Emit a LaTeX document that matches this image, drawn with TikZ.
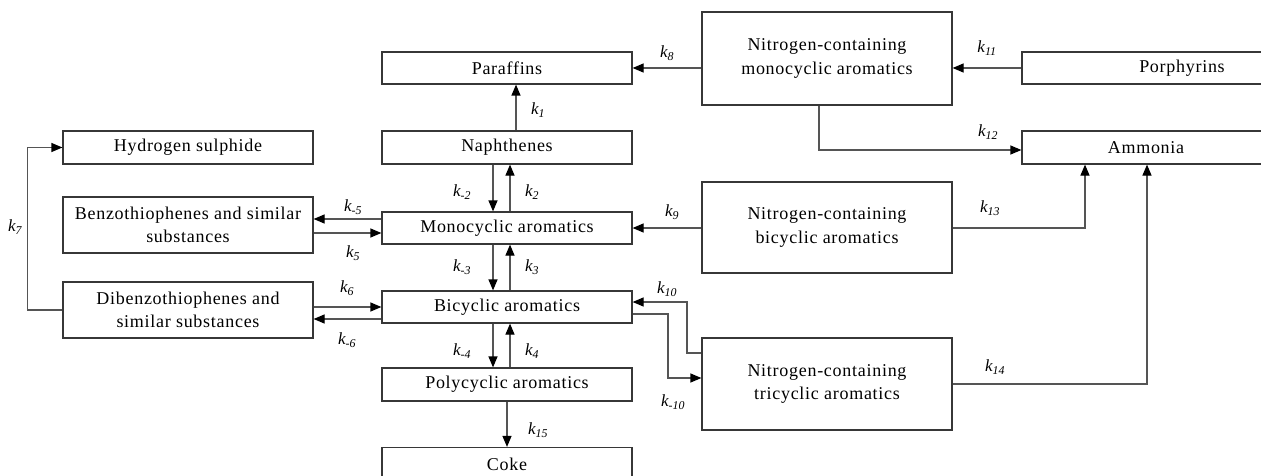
\documentclass[tikz,border=0pt]{standalone}
\usepackage{fontspec}
\setmainfont{Liberation Serif}
\usetikzlibrary{arrows.meta}
\definecolor{linecol}{RGB}{85,85,85}
\definecolor{boxcol}{RGB}{55,55,55}
\begin{document}
\begin{tikzpicture}[x=1pt,y=-1pt,
  box/.style={draw=boxcol, line width=1.2pt, minimum width=250pt, inner sep=2pt, align=center,
    font=\addfontfeatures{LetterSpace=4}\fontsize{18}{23.5}\selectfont, text=black},
  arr/.style={draw=linecol, line width=1.2pt, -{Triangle[length=11pt,width=9pt,color=black]}},
  kl/.style={font=\fontsize{17}{20}\selectfont\itshape, inner sep=0pt, text=black}]
\useasboundingbox (0,0) rectangle (1261,476);
\clip (0,0) rectangle (1261,476);
% central column
\node[box, minimum height=32pt] (par) at (507,68) {Paraffins};
\node[box, minimum height=33pt] (nap) at (507,147.5) {Naphthenes};
\node[box, minimum height=32pt] (mono) at (507,228) {Monocyclic aromatics};
\node[box, minimum height=32pt] (bic) at (507,307) {Bicyclic aromatics};
\node[box, minimum height=33pt] (poly) at (507,384.5) {Polycyclic aromatics};
\node[box, minimum height=33pt] (coke) at (507,464) {Coke};
% left column
\node[box, minimum height=33pt] (hs) at (188,147.5) {Hydrogen sulphide};
\node[box, minimum height=56pt] (benz) at (188,225) {Benzothiophenes and similar\\substances};
\node[box, minimum height=56pt] (dib) at (188,310) {Dibenzothiophenes and\\similar substances};
% right
\node[box, minimum height=93pt] (nmono) at (827,58.5) {Nitrogen-containing\\monocyclic aromatics};
\node[box, minimum height=91pt] (nbi) at (827,227.5) {Nitrogen-containing\\bicyclic aromatics};
\node[box, minimum height=92pt] (ntri) at (827,384) {Nitrogen-containing\\tricyclic aromatics};
\node[box, minimum height=32pt, minimum width=248pt] (porph) at (1146,68) {\hspace*{72pt}Porphyrins};
\node[box, minimum height=33pt, minimum width=248pt] (amm) at (1146,147.5) {Ammonia};
% vertical connectors
\draw[arr] ([xshift=9pt]nap.north) -- ([xshift=9pt]par.south);
\draw[arr] ([xshift=-14pt]nap.south) -- ([xshift=-14pt]mono.north);
\draw[arr] ([xshift=3pt]mono.north) -- ([xshift=3pt]nap.south);
\draw[arr] ([xshift=-14pt]mono.south) -- ([xshift=-14pt]bic.north);
\draw[arr] ([xshift=3pt]bic.north) -- ([xshift=3pt]mono.south);
\draw[arr] ([xshift=-14pt]bic.south) -- ([xshift=-14pt]poly.north);
\draw[arr] ([xshift=3pt]poly.north) -- ([xshift=3pt]bic.south);
\draw[arr] (poly.south) -- (coke.north);
% left connectors
\draw[arr] (mono.west |- 0,219) -- (benz.east |- 0,219);
\draw[arr] (benz.east |- 0,233) -- (mono.west |- 0,233);
\draw[arr] (dib.east |- 0,307) -- (bic.west |- 0,307);
\draw[arr] (bic.west |- 0,319) -- (dib.east |- 0,319);
\draw[arr] (dib.west) -- ++(-35,0) |- (hs.west);
% right connectors
\draw[arr] (nmono.west |- 0,68) -- (par.east |- 0,68);
\draw[arr] (nbi.west |- 0,228) -- (mono.east |- 0,228);
\draw[arr] (ntri.west |- 0,353) -- (687,353) -- (687,302) -- (bic.east |- 0,302);
\draw[arr] (bic.east |- 0,314) -- (668,314) -- (668,378) -- (ntri.west |- 0,378);
\draw[arr] (porph.west) -- (nmono.east |- porph.west);
\draw[arr] (nmono.south -| 819,0) |- (amm.west |- 0,150);
\draw[arr] (nbi.east |- 0,228) -| (amm.south -| 1085,0);
\draw[arr] (ntri.east |- 0,384) -| (amm.south -| 1147,0);
% labels
\node[kl] (l1) at (538,110) {k\textsubscript{1}};
\node[kl] (lm2) at (462,192) {k\textsubscript{-2}};
\node[kl] (l2) at (532,192) {k\textsubscript{2}};
\node[kl] (lm3) at (462,267) {k\textsubscript{-3}};
\node[kl] (l3) at (532,267) {k\textsubscript{3}};
\node[kl] (lm4) at (462,351) {k\textsubscript{-4}};
\node[kl] (l4) at (532,351) {k\textsubscript{4}};
\node[kl] (l15) at (538,430) {k\textsubscript{15}};
\node[kl] (lm5) at (353,207) {k\textsubscript{-5}};
\node[kl] (l5) at (353,253) {k\textsubscript{5}};
\node[kl] (l6) at (347,288) {k\textsubscript{6}};
\node[kl] (lm6) at (347,340) {k\textsubscript{-6}};
\node[kl] (l7) at (15,227) {k\textsubscript{7}};
\node[kl] (l8) at (667,53) {k\textsubscript{8}};
\node[kl] (l9) at (672,212) {k\textsubscript{9}};
\node[kl] (l10) at (667,289) {k\textsubscript{10}};
\node[kl] (lm10) at (673,402) {k\textsubscript{-10}};
\node[kl] (l11) at (987,48) {k\textsubscript{11}};
\node[kl] (l12) at (988,132) {k\textsubscript{12}};
\node[kl] (l13) at (990,208) {k\textsubscript{13}};
\node[kl] (l14) at (995,367) {k\textsubscript{14}};
\end{tikzpicture}
\end{document}
